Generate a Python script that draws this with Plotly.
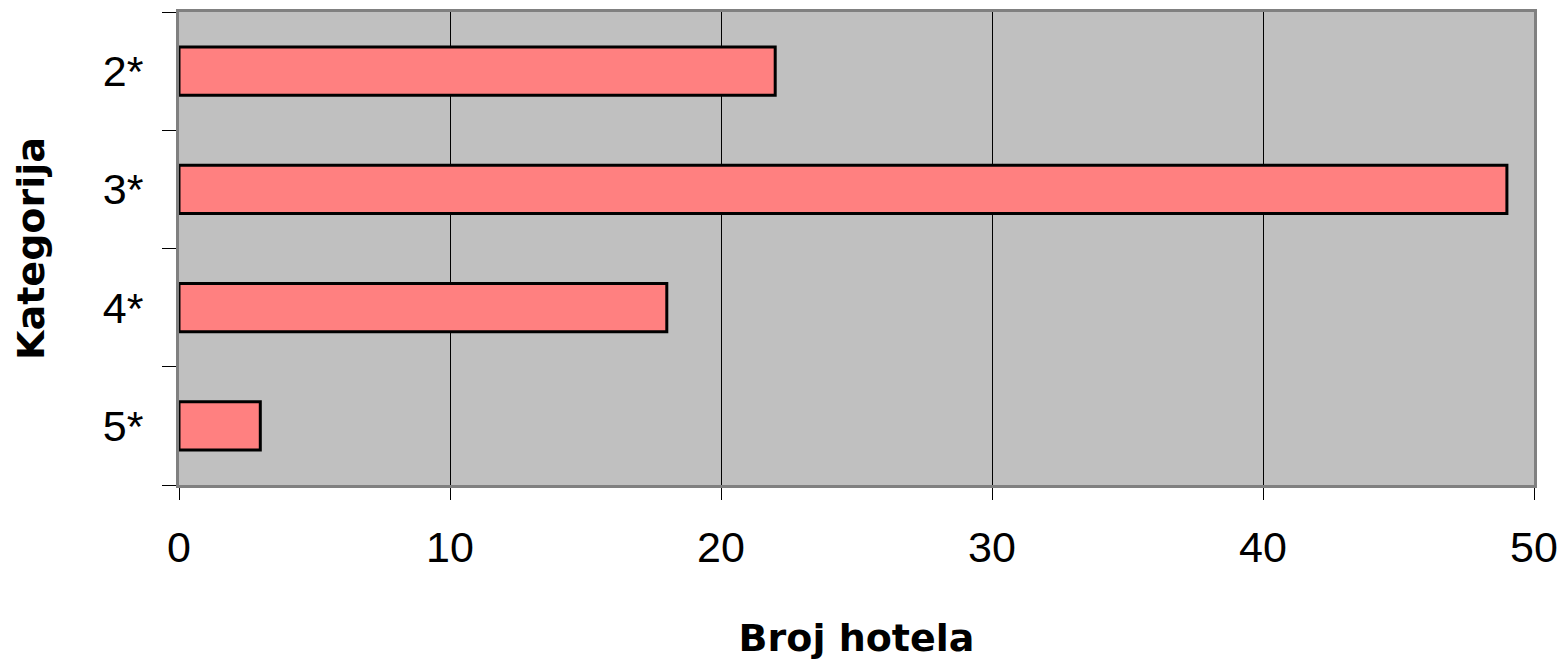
import plotly.graph_objects as go

categories = ["2*", "3*", "4*", "5*"]
hotel_counts = [22, 49, 18, 3]
x_ticks = [0, 10, 20, 30, 40, 50]

title_font = dict(family="Comic Sans MS, DejaVu Sans", size=38, color="black")
tick_font = dict(family="Liberation Sans, Arial", size=43, color="black")

fig = go.Figure(
    go.Bar(
        x=hotel_counts,
        y=categories,
        orientation="h",
        width=0.41,
        marker=dict(color="#FF8080", line=dict(color="black", width=3)),
    )
)

fig.update_layout(
    width=1566,
    height=667,
    margin=dict(l=179, r=32, t=12, b=182),
    paper_bgcolor="white",
    plot_bgcolor="#C0C0C0",
    showlegend=False,
    bargap=0.59,
)

fig.update_xaxes(
    range=[0, 50],
    tickvals=x_ticks,
    ticktext=[str(v) for v in x_ticks],
    tickfont=tick_font,
    ticks="outside",
    ticklen=12,
    tickcolor="black",
    ticklabelstandoff=10,
    showgrid=True,
    gridcolor="black",
    gridwidth=1,
    zeroline=False,
    showline=True,
    linecolor="#808080",
    linewidth=3,
    mirror=True,
    automargin=False,
    title=dict(text="<b>Broj hotela</b>", font=title_font, standoff=55),
)

fig.update_yaxes(
    categoryorder="array",
    categoryarray=categories[::-1],
    tickfont=tick_font,
    ticks="outside",
    tickson="boundaries",
    ticklen=14,
    tickcolor="black",
    ticklabelstandoff=24,
    showgrid=False,
    showline=True,
    linecolor="#808080",
    linewidth=3,
    mirror=True,
    automargin=False,
    title=dict(text="<b>Kategorija</b>", font=title_font, standoff=47),
)

fig.write_html("out.html")
